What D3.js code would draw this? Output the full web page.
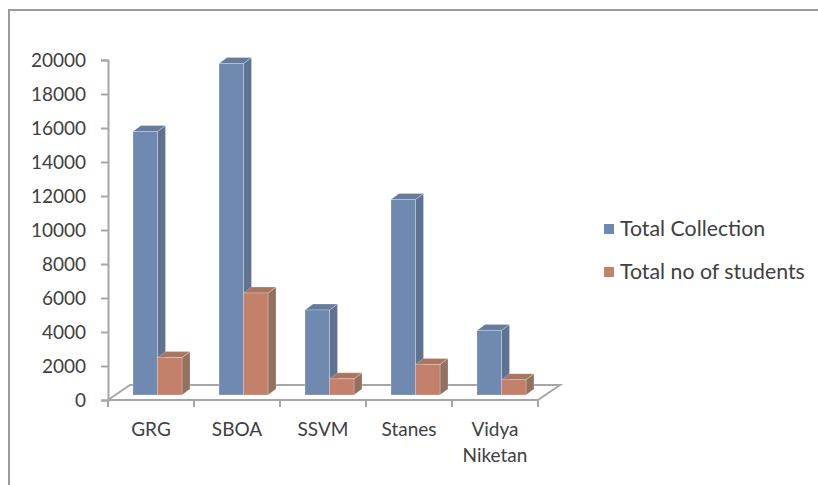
<!DOCTYPE html>
<html>
<head>
<meta charset="utf-8">
<script src="https://cdn.jsdelivr.net/npm/d3@7"></script>
<style>
  html, body { margin: 0; padding: 0; background: #fff; }
  svg { display: block; }
  text { font-family: Lato, "Liberation Sans", sans-serif; fill: #404040; }
</style>
</head>
<body>
<svg id="chart" width="818" height="485"></svg>
<script>
const categories = ["GRG", "SBOA", "SSVM", "Stanes", "Vidya Niketan"];
const seriesNames = ["Total Collection", "Total no of students"];
const totalCollection = [15500, 19500, 5000, 11500, 3800];
const totalStudents = [2200, 6000, 950, 1800, 900];
const yTicks = [0, 2000, 4000, 6000, 8000, 10000, 12000, 14000, 16000, 18000, 20000];

const colors = {
  front: ["#7089b1", "#c3806a"],
  side:  ["#5f7292", "#94705f"],
  top:   ["#667c9f", "#a97561"]
};

const svg = d3.select("#chart");

// outer chart border
svg.append("rect")
  .attr("x", 9).attr("y", 10).attr("width", 840).attr("height", 500)
  .attr("fill", "none").attr("stroke", "#9a9a9a").attr("stroke-width", 2);

const floorY = 400, axisX = 108, plotRight = 538;
const depthX = 22, depthY = 15;       // floor depth offset
const barDX = 8, barDY = 6;           // bar depth
const barShiftX = 6.5, barShiftY = 5; // bars sit mid-depth

const x = d3.scaleBand().domain(categories).range([axisX, plotRight]).padding(0);
const y = d3.scaleLinear().domain([0, 20000]).range([floorY, 60]);
const barW = 24.5;
const xs = d3.scaleBand().domain(seriesNames).range([-barW, barW]).padding(0);

const gridColor = "#a6a6a6";

// floor
svg.append("path")
  .attr("d", `M${axisX},${floorY} L${axisX + depthX},${floorY - depthY} L${plotRight + depthX},${floorY - depthY} L${plotRight},${floorY}`)
  .attr("fill", "none").attr("stroke", gridColor).attr("stroke-width", 2);
svg.append("line")
  .attr("x1", axisX).attr("x2", plotRight).attr("y1", floorY).attr("y2", floorY)
  .attr("stroke", gridColor).attr("stroke-width", 2);

// category tick marks
const catBounds = categories.map(c => x(c)).concat([plotRight]);
svg.selectAll(".ctick").data(catBounds).enter().append("line")
  .attr("x1", d => d).attr("x2", d => d)
  .attr("y1", floorY).attr("y2", floorY + 7)
  .attr("stroke", gridColor).attr("stroke-width", 2);

// y axis
const yAxis = d3.axisLeft(y).tickValues(yTicks).tickSize(7).tickPadding(15).tickFormat(d3.format("d"));
const gy = svg.append("g").attr("transform", `translate(${axisX},0)`).call(yAxis);
gy.select(".domain").attr("stroke", gridColor).attr("stroke-width", 2);
gy.selectAll(".tick line").attr("stroke", gridColor).attr("stroke-width", 2);
gy.selectAll(".tick text").attr("font-size", 19).attr("font-family", "Lato, sans-serif").attr("fill", "#404040");

// bars
const data = [];
categories.forEach((c, i) => {
  data.push({ cat: c, s: 0, v: totalCollection[i] });
  data.push({ cat: c, s: 1, v: totalStudents[i] });
});
const base = floorY - barShiftY;
const bars = svg.selectAll(".bar").data(data).enter().append("g").attr("class", "bar");
bars.each(function(d) {
  const g = d3.select(this);
  const x0 = x(d.cat) + x.bandwidth() / 2 + barShiftX + xs(seriesNames[d.s]);
  const x1 = x0 + xs.bandwidth();
  const top = y(d.v) - barShiftY;
  // side
  g.append("path")
    .attr("d", `M${x1},${top} L${x1 + barDX},${top - barDY} L${x1 + barDX},${base - barDY} L${x1},${base} Z`)
    .attr("fill", colors.side[d.s]).attr("stroke", "rgba(255,255,255,0.35)").attr("stroke-width", 0.7);
  // top
  g.append("path")
    .attr("d", `M${x0},${top} L${x0 + barDX},${top - barDY} L${x1 + barDX},${top - barDY} L${x1},${top} Z`)
    .attr("fill", colors.top[d.s]).attr("stroke", "rgba(255,255,255,0.35)").attr("stroke-width", 0.7);
  // front
  g.append("rect")
    .attr("x", x0).attr("y", top).attr("width", x1 - x0).attr("height", base - top)
    .attr("fill", colors.front[d.s]).attr("stroke", "rgba(255,255,255,0.35)").attr("stroke-width", 0.7);
});

// category labels
const labels = svg.selectAll(".clabel").data(categories).enter().append("text")
  .attr("text-anchor", "middle").attr("font-size", 19)
  .attr("x", d => x(d) + x.bandwidth() / 2)
  .attr("y", 436);
labels.each(function(d) {
  const words = d.split(" ");
  const t = d3.select(this);
  words.forEach((w, k) => {
    t.append("tspan").attr("x", x(d) + x.bandwidth() / 2).attr("dy", k === 0 ? 0 : 26).text(w);
  });
});

// legend
const legend = svg.selectAll(".leg").data(seriesNames).enter().append("g")
  .attr("transform", (d, i) => `translate(604,${224 + i * 43})`);
legend.append("rect").attr("width", 10).attr("height", 10).attr("fill", (d, i) => colors.front[i]);
legend.append("text").attr("x", 16).attr("y", 11.5).attr("font-size", 21.3).text(d => d);
</script>
</body>
</html>
